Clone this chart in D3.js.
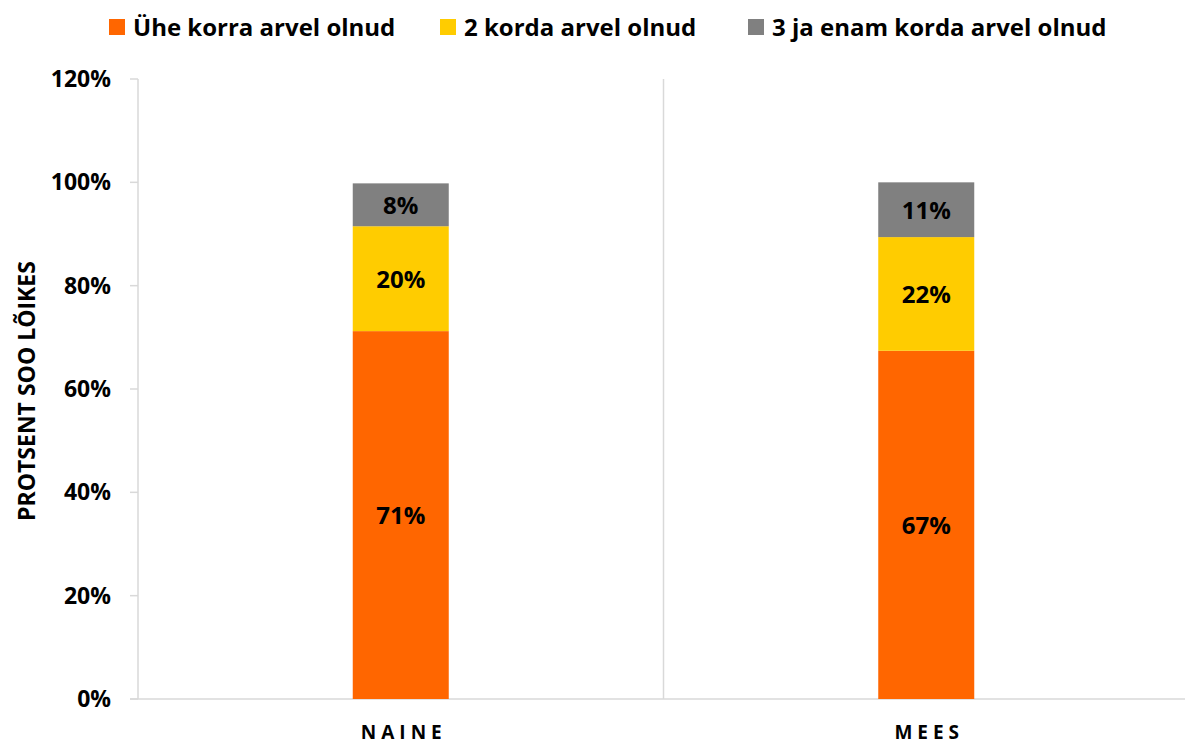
<!DOCTYPE html>
<html>
<head>
<meta charset="utf-8">
<script src="https://cdn.jsdelivr.net/npm/d3@7"></script>
<style>
  body { margin: 0; background: #fff; }
  svg text { font-family: "Open Sans", sans-serif; font-weight: bold; fill: #000; }
</style>
</head>
<body>
<svg id="chart" width="1185" height="744"></svg>
<script>
// data
const categories = ["NAINE", "MEES"];
const seriesNames = ["Ühe korra arvel olnud", "2 korda arvel olnud", "3 ja enam korda arvel olnud"];
const onceValues = [71.2, 67.4];
const twiceValues = [20.3, 22.0];
const threePlusValues = [8.3, 10.6];
const yTicks = [0, 20, 40, 60, 80, 100, 120];
const colors = ["#ff6600", "#ffcc00", "#808080"];

const svg = d3.select("#chart");
const margin = {left: 138, top: 79, bottom: 699, right: 1189};

const rows = categories.map((c, i) => ({
  cat: c, s0: onceValues[i], s1: twiceValues[i], s2: threePlusValues[i]
}));
const stack = d3.stack().keys(["s0", "s1", "s2"])(rows);

const x = d3.scaleBand().domain(categories).range([margin.left, margin.right]);
const y = d3.scaleLinear().domain([0, 120]).range([margin.bottom, margin.top]);
const barW = 96;

// axis lines
const grid = "#d9d9d9";
svg.append("line").attr("x1", margin.left).attr("x2", margin.left)
  .attr("y1", margin.top).attr("y2", margin.bottom).attr("stroke", grid).attr("stroke-width", 1.5);
svg.append("line").attr("x1", 130).attr("x2", margin.right)
  .attr("y1", margin.bottom).attr("y2", margin.bottom).attr("stroke", grid).attr("stroke-width", 1.5);
// category separator
svg.append("line").attr("x1", x("MEES")).attr("x2", x("MEES"))
  .attr("y1", margin.top).attr("y2", margin.bottom).attr("stroke", grid).attr("stroke-width", 1.5);

// y ticks + labels
const yg = svg.append("g");
yg.selectAll("line").data(yTicks).enter().append("line")
  .attr("x1", 130).attr("x2", margin.left)
  .attr("y1", d => y(d)).attr("y2", d => y(d))
  .attr("stroke", grid).attr("stroke-width", 1.5);
yg.selectAll("text").data(yTicks).enter().append("text")
  .attr("x", 111).attr("y", d => y(d) + 8)
  .attr("text-anchor", "end").style("font-size", "23px")
  .text(d => d + "%");

// y title
svg.append("text")
  .attr("transform", "translate(35," + 391 + ") rotate(-90)")
  .attr("text-anchor", "middle").style("font-size", "23px")
  .text("PROTSENT SOO LÕIKES");

// x labels
svg.selectAll(".xl").data(categories).enter().append("text")
  .attr("class", "xl")
  .attr("x", d => x(d) + x.bandwidth() / 2 + 3)
  .attr("y", 739)
  .attr("text-anchor", "middle")
  .style("font-size", "19px").style("letter-spacing", "5px")
  .text(d => d);

// bars
stack.forEach((layer, li) => {
  const g = svg.append("g");
  g.selectAll("rect").data(layer).enter().append("rect")
    .attr("x", d => x(d.data.cat) + x.bandwidth() / 2 - barW / 2)
    .attr("width", barW)
    .attr("y", d => y(d[1]))
    .attr("height", d => y(d[0]) - y(d[1]))
    .attr("fill", colors[li]);
  g.selectAll("text").data(layer).enter().append("text")
    .attr("x", d => x(d.data.cat) + x.bandwidth() / 2)
    .attr("y", d => (y(d[0]) + y(d[1])) / 2 + 9)
    .attr("text-anchor", "middle").style("font-size", "24px")
    .text(d => Math.round(d[1] - d[0]) + "%");
});

// legend
const legendX = [109, 440, 748];
const lg = svg.append("g");
seriesNames.forEach((name, i) => {
  lg.append("rect").attr("x", legendX[i]).attr("y", 19).attr("width", 16).attr("height", 16)
    .attr("fill", colors[i]);
  lg.append("text").attr("x", legendX[i] + 24).attr("y", 36)
    .style("font-size", "24px").text(name);
});
</script>
</body>
</html>
